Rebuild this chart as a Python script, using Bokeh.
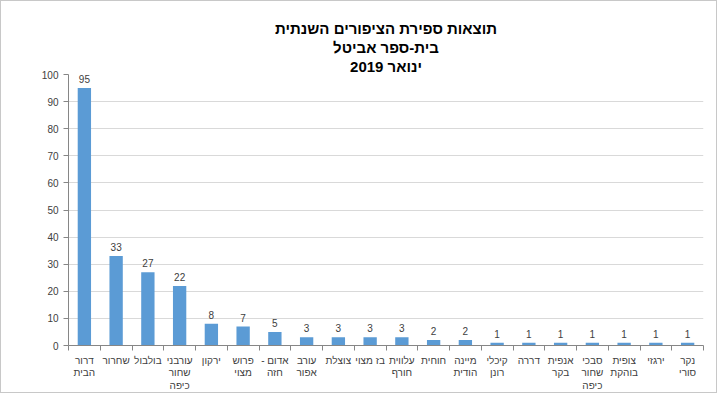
from bokeh.plotting import figure
from bokeh.models import Range1d, FixedTicker, Label, BoxAnnotation, ColumnDataSource, Title
from bokeh.core.properties import value
from bokeh.embed import file_html
from bokeh.resources import INLINE

species = ["דרור\nהבית", "שחרור", "בולבול", "עורבני\nשחור\nכיפה", "ירקון",
           "פרוש\nמצוי", "- אדום\nחזה", "עורב\nאפור", "צוצלת", "בז מצוי",
           "עלווית\nחורף", "חוחית", "מיינה\nהודית", "קיכלי\nרונן", "דררה",
           "אנפית\nבקר", "סבכי\nשחור\nכיפה", "צופית\nבוהקת", "ירגזי", "נקר\nסורי"]
counts = [95, 33, 27, 22, 8, 7, 5, 3, 3, 3, 3, 2, 2, 1, 1, 1, 1, 1, 1, 1]
y_ticks = list(range(0, 101, 10))
title_lines = ["תוצאות ספירת הציפורים השנתית", "בית-ספר אביטל", "ינואר 2019"]
series_name = "מספר הפרטים"

FONT = "Liberation Sans"
positions = list(range(1, len(species) + 1))
src = ColumnDataSource(dict(x=positions, top=counts, lbl=[str(c) for c in counts]))

p = figure(width=717, height=393, output_backend="svg", toolbar_location=None,
           x_range=Range1d(0.5, len(species) + 0.5), y_range=Range1d(0, 100),
           min_border_left=67, min_border_right=15, min_border_bottom=30, min_border_top=73)
p.styles = {"border": "1px solid #c8c8c8"}
p.outline_line_color = None
p.background_fill_color = "white"
p.title = None

# invisible spacer between the plot frame and the title block
p.add_layout(Title(text="|", text_font=FONT, text_font_size="9px", text_alpha=0, standoff=0), "above")
# title lines: first added sits closest to the frame
for line in reversed(title_lines):
    p.add_layout(Title(text=line, align="center", text_font=FONT, text_font_size="15px",
                       text_font_style="bold", text_color="#000000", standoff=0), "above")

p.vbar(x="x", top="top", width=0.42, source=src, fill_color="#5B9BD5", line_color=None)
p.text(x="x", y="top", text="lbl", source=src, text_align="center", text_baseline="bottom",
       y_offset=-5, text_font=value(FONT), text_font_size="10px", text_color="#404040")

# x axis
p.xaxis.ticker = FixedTicker(ticks=positions, minor_ticks=[i + 0.5 for i in range(len(species) + 1)])
p.xaxis.major_label_overrides = {i + 1: s for i, s in enumerate(species)}
p.xaxis.major_tick_line_color = None
p.xaxis.major_tick_out = 0
p.xaxis.major_tick_in = 0
p.xaxis.minor_tick_line_color = "#868686"
p.xaxis.minor_tick_out = 5
p.xaxis.minor_tick_in = 0
p.xaxis.axis_line_color = "#868686"
p.xaxis.major_label_text_font = FONT
p.xaxis.major_label_text_font_size = "10px"
p.xaxis.major_label_text_color = "#404040"
p.xaxis.major_label_text_line_height = 1.17
p.xaxis.major_label_standoff = 4
p.xgrid.grid_line_color = None

# y axis
p.yaxis.ticker = FixedTicker(ticks=y_ticks)
p.yaxis.minor_tick_line_color = None
p.yaxis.major_tick_line_color = "#868686"
p.yaxis.major_tick_out = 5
p.yaxis.major_tick_in = 0
p.yaxis.axis_line_color = "#868686"
p.yaxis.major_label_text_font = FONT
p.yaxis.major_label_text_font_size = "10px"
p.yaxis.major_label_text_color = "#404040"
p.yaxis.major_label_standoff = 5
p.ygrid.grid_line_color = "#d9d9d9"

# legend (rotated, left side)
p.add_layout(BoxAnnotation(left=-42, right=-37, bottom=153, top=158,
                           left_units="screen", right_units="screen",
                           bottom_units="screen", top_units="screen",
                           fill_color="#5B9BD5", fill_alpha=1, line_color=None))
p.add_layout(Label(x=-27, y=132, x_units="screen", y_units="screen", text=series_name,
                   angle=1.5708, text_align="center", text_baseline="middle",
                   text_font=FONT, text_font_size="10px", text_color="#404040"))

open("out.html", "w").write(file_html(p, INLINE))
